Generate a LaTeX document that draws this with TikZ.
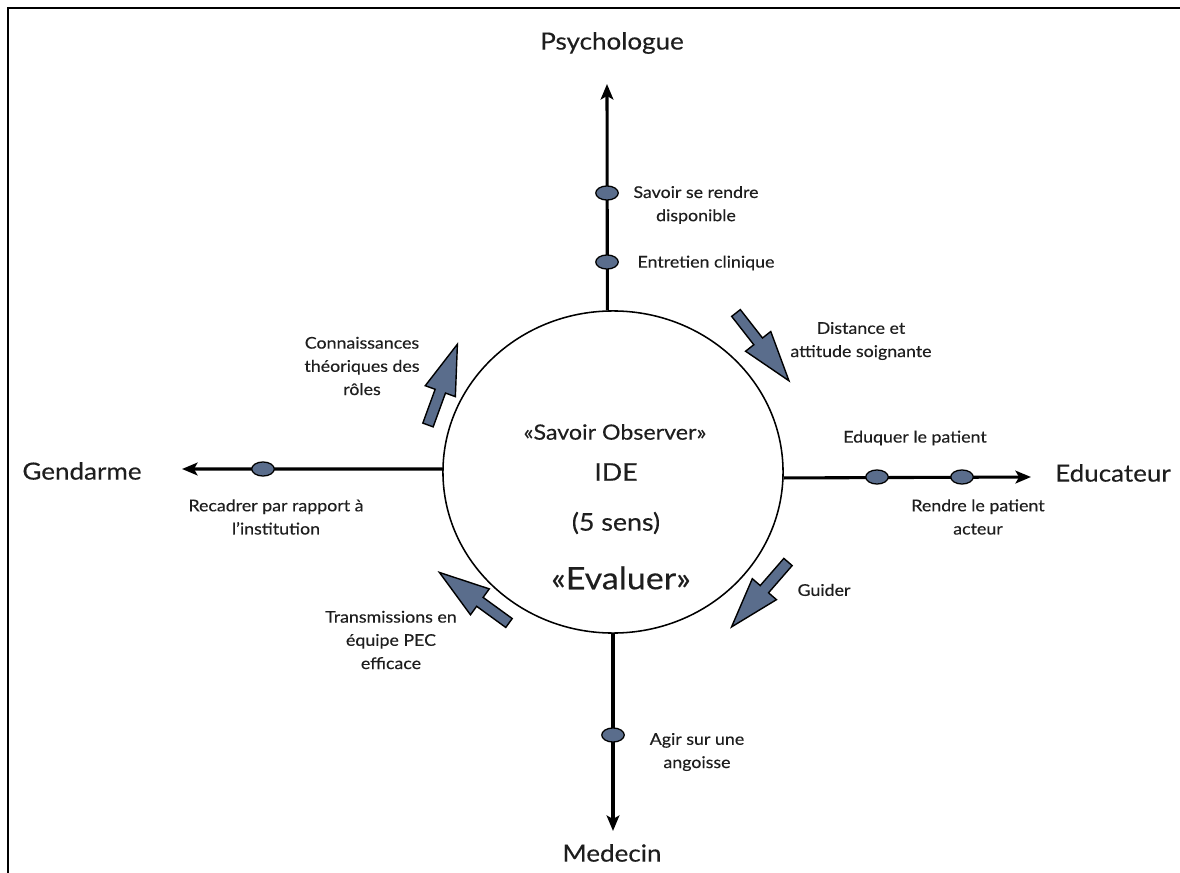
\documentclass[tikz,border=0pt]{standalone}
\usepackage{fontspec}
\setmainfont{Lato}[FakeStretch=1.1,FakeBold=0.3]
\usepackage{xcolor}
\usetikzlibrary{arrows.meta,shapes.geometric}

\definecolor{slate}{HTML}{5A6D8C}
\definecolor{ink}{HTML}{1E1E1E}

\begin{document}
\begin{tikzpicture}
[
  x=0.025cm, y=-0.025cm,
  role/.style={text=ink,font=\fontsize{16.8}{20}\selectfont},
  lbl/.style={text=ink,align=center,font=\fontsize{11.5}{16.5}\selectfont},
  axis/.style={line width=2.2pt,-{Stealth[length=11pt,width=9pt,inset=2.5pt]}},
  dot/.style={ellipse,draw,line width=0.9pt,fill=slate,minimum width=16pt,minimum height=10pt,inner sep=0pt},
  blk/.style={draw,line width=1pt,fill=slate,line join=miter}
]
\useasboundingbox (0,0) rectangle (1180,873);

% frame
\draw[line width=1.5pt] (8,873) -- (8,8) -- (1180,8);

% centre
\node[ellipse,draw,line width=1.1pt,minimum width=8.5cm,minimum height=8.05cm] (ide) at (613,472) {};
\node[text=ink,font=\fontsize{15}{17}\selectfont] (obs) at (615,432) {«Savoir Observer»};
\node[text=ink,font=\fontsize{17.3}{20}\selectfont] (idetxt) at (616,472) {IDE};
\node[text=ink,font=\fontsize{17.3}{20}\selectfont] (sens) at (616,523) {(5 sens)};
\node[text=ink,font=\fontsize{22}{25}\selectfont] (eval) at (621,578) {«Evaluer»};

% roles
\node[role] (psy) at (612,43) {Psychologue};
\node[role] (gend) at (82,471) {Gendarme};
\node[role] (educ) at (1113,473) {Educateur};
\node[role] (med) at (612,853) {Medecin};

\coordinate (tpsy) at (607,84);
\coordinate (tgend) at (182,469);
\coordinate (teduc) at (1031,477);
\coordinate (tmed) at (613,831);

\draw[axis] (ide.92) -- (tpsy);
\draw[axis] (ide.179) -- (tgend);
\draw[axis] (ide.-2) -- (teduc);
\draw[axis] (ide.south) -- (tmed);

% dots on the axes
\node[dot] (d1) at (607,193) {};
\node[dot] (d2) at (607,262) {};
\node[dot] (d3) at (263,469) {};
\node[dot] (d4) at (877,477) {};
\node[dot] (d5) at (962,477) {};
\node[dot] (d6) at (613,735) {};

\node[lbl] (sav) at (696,205) {Savoir se rendre\\disponible};
\node[lbl] (ent) at (706,263) {Entretien clinique};
\node[lbl] (recad) at (276,517) {Recadrer par rapport à\\l'institution};
\node[lbl] (eduq) at (915,438) {Eduquer le patient};
\node[lbl] (rend) at (978,517) {Rendre le patient\\acteur};
\node[lbl] (agir) at (697,752) {Agir sur une\\angoisse};

% block arrows
\draw[blk,shift={(428,425)},rotate=70] (0,-5.5) -- (36,-5.5) -- (36,-16) -- (86,0) -- (36,16) -- (36,5.5) -- (0,5.5) -- cycle;
\draw[blk,shift={(736,313)},rotate=-52] (0,-5.5) -- (36,-5.5) -- (36,-16) -- (86,0) -- (36,16) -- (36,5.5) -- (0,5.5) -- cycle;
\draw[blk,shift={(788,562)},rotate=-131] (0,-5.5) -- (36,-5.5) -- (36,-16) -- (86,0) -- (36,16) -- (36,5.5) -- (0,5.5) -- cycle;
\draw[blk,shift={(509,623)},rotate=144] (0,-5.5) -- (36,-5.5) -- (36,-16) -- (86,0) -- (36,16) -- (36,5.5) -- (0,5.5) -- cycle;

\node[lbl] (conn) at (362,366) {Connaissances\\théoriques des\\rôles};
\node[lbl] (dist) at (861,341) {Distance et\\attitude soignante};
\node[lbl] (guid) at (824,590) {Guider};
\node[lbl] (trans) at (391,640) {Transmissions en\\équipe PEC\\efficace};
\end{tikzpicture}
\end{document}
